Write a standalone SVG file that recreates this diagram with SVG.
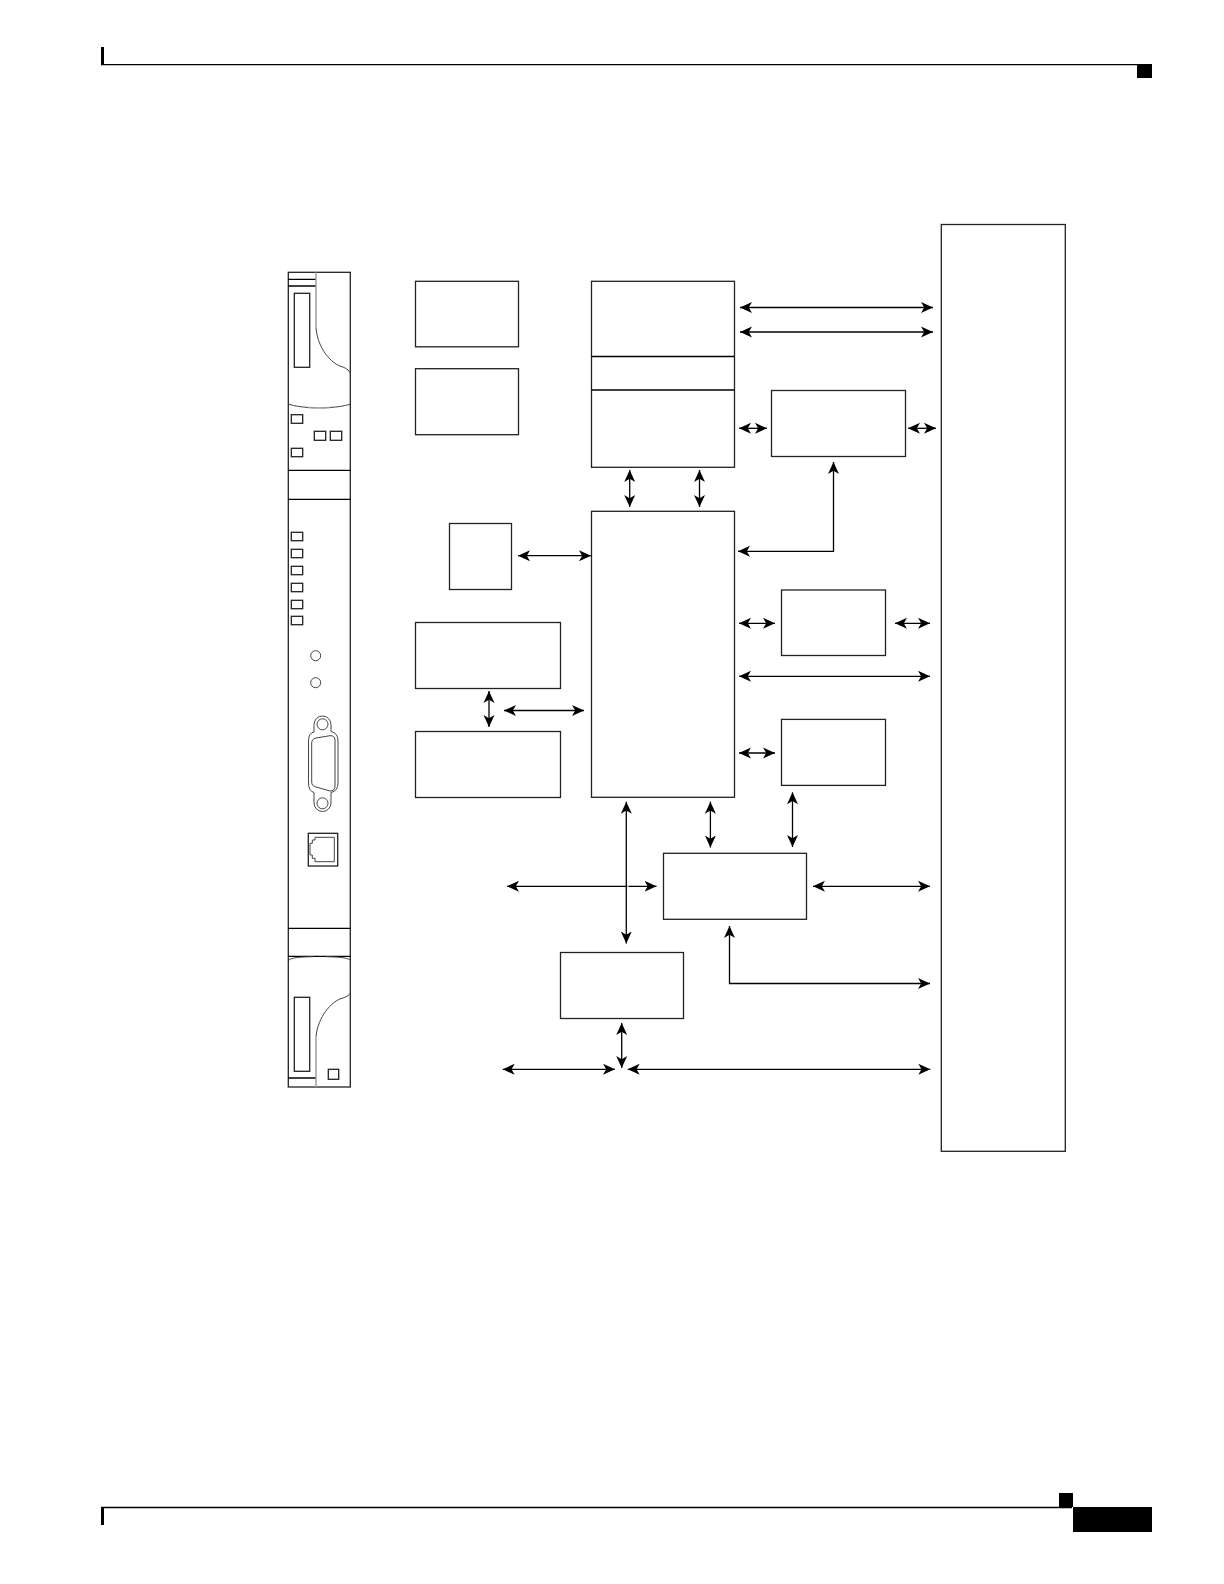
<svg xmlns="http://www.w3.org/2000/svg" width="1224" height="1584" viewBox="0 0 1224 1584">
<defs>
<style>
.b{fill:#fff;stroke:#222;stroke-width:1.3}
.c{fill:none;stroke:#000;stroke-width:1.3;marker-start:url(#a);marker-end:url(#a)}
.p{fill:none;stroke:#000;stroke-width:1.3}
.g{fill:none;stroke:#444;stroke-width:1}
.h{fill:none;stroke:#999;stroke-width:1.4}
</style>
<marker id="a" markerUnits="userSpaceOnUse" markerWidth="13" markerHeight="12" refX="12" refY="5.5" orient="auto-start-reverse" viewBox="0 0 13 11"><path d="M0 0L12 5.500L0 11L3.200 5.500Z" fill="#000"/></marker>
</defs>
<rect width="1224" height="1584" fill="#fff"/>
<g id="header"><rect x="101" y="47" width="3" height="18"/><path d="M101 64.700H1138" stroke="#000" stroke-width="1.300"/><rect x="1137" y="64" width="15" height="14"/></g>
<g id="footer"><rect x="101" y="1507" width="3" height="18"/><path d="M101 1507.500H1072" stroke="#000" stroke-width="1.300"/><rect x="1059" y="1493" width="14" height="14"/><rect x="1073" y="1507" width="79" height="25"/></g>
<g id="panel">
<rect class="b" x="288.300" y="272.300" width="62" height="814.700"/>
<path class="p" d="M288.300 279.300H316M288.300 286H316M288.300 470.300H350.300M288.300 499.300H350.300M288.300 928.300H350.300M288.300 956.300H350.300M288.300 1078H316"/>
<path class="h" d="M316 272.300V328M316 1087V1036.700M308 407.500Q320 408.500 330 407.500"/>
<path class="g" d="M316 328C318 350 332 363 340 366C346 368 349 370 350.300 373.300M316 1036.700C318 1016 332 1002 340 999C346 997 349 996 350.300 992.700M289 404.300C294 406 302 407 308 407.500M350 404.300C344 406 338 407 330 407.500M289 960C292 957.500 300 957 313 956.700M350 960C347 957.500 338 957 326 956.700"/>
<rect class="b" x="294.300" y="293.300" width="15.400" height="74"/>
<rect class="b" x="294.300" y="997.300" width="15.400" height="74"/>
<rect class="b" x="328.300" y="1069.300" width="10.400" height="10"/>
<rect class="b" x="291.300" y="414.700" width="11.400" height="8.600"/>
<rect class="b" x="314.300" y="431.300" width="11.400" height="9"/>
<rect class="b" x="330.300" y="431.300" width="11.400" height="9"/>
<rect class="b" x="291.300" y="448.300" width="11.400" height="8.400"/>
<rect class="b" x="291.300" y="532.300" width="11.400" height="8.400"/>
<rect class="b" x="291.300" y="549.300" width="11.400" height="8.400"/>
<rect class="b" x="291.300" y="566.300" width="11.400" height="8.400"/>
<rect class="b" x="291.300" y="583.300" width="11.400" height="8.400"/>
<rect class="b" x="291.300" y="600.300" width="11.400" height="8.400"/>
<rect class="b" x="291.300" y="616.300" width="11.400" height="8.400"/>
<circle class="g" cx="315.700" cy="655.700" r="5"/>
<circle class="g" cx="315.700" cy="682.700" r="5"/>
<path class="g" d="M314 732V724.500A8.500 8.500 0 0 1 331 724.500V731.500Q338 733 338 741V783Q338 791 331 792.500V803A8.500 8.500 0 0 1 314 803V792.500Q308.500 791 308.500 783V741Q308.500 733 314 732Z"/>
<path class="g" d="M316 738L330 735.700Q335 735.500 335 740V786Q335 791 330 791L316 787Q311.700 786 311.700 782V743Q311.700 739 316 738Z"/>
<circle class="g" cx="322.500" cy="724.300" r="5.500"/>
<circle class="g" cx="322.500" cy="803.300" r="5.500"/>
<rect class="b" x="308.300" y="833.300" width="29.400" height="32.700" stroke-width="1.400"/>
<path class="g" d="M315 837.300H334.300V861.700H315V858.300H312.300V855H310V843.300H312.300V840H315Z"/>
</g>
<g id="backplane"><rect class="b" x="941.300" y="224.500" width="124" height="926.800"/></g>
<g id="box-a"><rect class="b" x="415.500" y="281.300" width="103" height="65.500"/></g>
<g id="box-b"><rect class="b" x="415.500" y="368.700" width="103" height="66"/></g>
<g id="box-top"><rect class="b" x="591.500" y="281.300" width="143" height="186"/><path class="p" d="M591.500 356.500H734.500M591.500 390H734.500"/></g>
<g id="box-c"><rect class="b" x="771.500" y="390.500" width="134" height="66"/></g>
<g id="box-main"><rect class="b" x="591.500" y="511.300" width="143" height="286"/></g>
<g id="box-small"><rect class="b" x="449.500" y="523.500" width="62" height="66"/></g>
<g id="box-d"><rect class="b" x="415.500" y="622.500" width="145" height="66"/></g>
<g id="box-e"><rect class="b" x="415.500" y="731.500" width="145" height="66"/></g>
<g id="box-f"><rect class="b" x="781.500" y="590" width="104" height="65.500"/></g>
<g id="box-g"><rect class="b" x="781.500" y="719.400" width="104" height="66"/></g>
<g id="box-h"><rect class="b" x="663.500" y="853.300" width="143" height="66"/></g>
<g id="box-i"><rect class="b" x="560.500" y="952.500" width="123" height="66"/></g>
<g id="connectors">
<path class="c" d="M740 307.500H933"/>
<path class="c" d="M740 332H933"/>
<path class="c" d="M739 428.300H767"/>
<path class="c" d="M908 428.300H936"/>
<path class="c" d="M629.700 470V507"/>
<path class="c" d="M699.500 470V507"/>
<path class="c" d="M738 551.300H833.500V462"/>
<path class="c" d="M518 555.700H591"/>
<path class="c" d="M739 623.300H775"/>
<path class="c" d="M895 623.300H930"/>
<path class="c" d="M739 676.300H930"/>
<path class="c" d="M739 753H775"/>
<path class="c" d="M489 691V727"/>
<path class="c" d="M504 710.500H584"/>
<path class="c" d="M507 886.300H656.500"/>
<path d="M627.400 886.300H628.500" stroke="#fff" stroke-width="2"/>
<path class="c" d="M626.300 801.700V943.500"/>
<path class="c" d="M710.400 801.700V847.500"/>
<path class="c" d="M792.500 792.300V847"/>
<path class="c" d="M813 886.300H930"/>
<path class="c" d="M729.500 926V983.500H930"/>
<path class="c" d="M621.700 1023V1068"/>
<path class="c" d="M502.700 1069.300H615"/>
<path class="c" d="M627.700 1069.300H930.300"/>
</g>
</svg>
